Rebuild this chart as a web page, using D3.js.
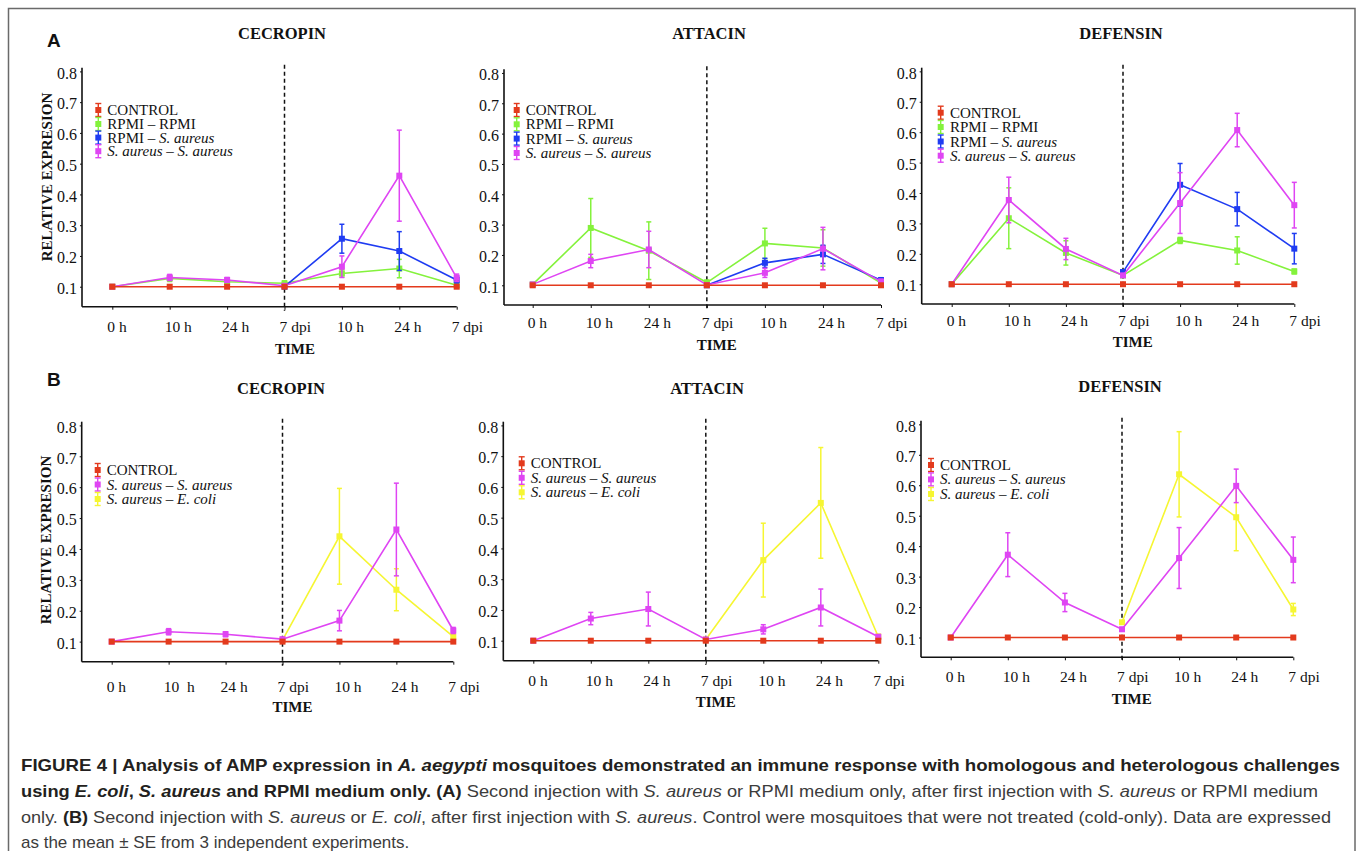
<!DOCTYPE html>
<html>
<head>
<meta charset="utf-8">
<script src="https://cdn.jsdelivr.net/npm/d3@7"></script>
<style>
  html, body { margin: 0; padding: 0; background: #fff; }
  svg { display: block; }
  .pre { white-space: pre; }
</style>
</head>
<body>
<svg id="fig" width="1358" height="851"></svg>
<script>
// ---------------- DATA ----------------
const timeLabels  = ["0 h", "10 h", "24 h", "7 dpi", "10 h", "24 h", "7 dpi"];
const timeLabelsB = ["0 h", "10  h", "24 h", "7 dpi", "10 h", "24 h", "7 dpi"];
const yTicks = [0.1, 0.2, 0.3, 0.4, 0.5, 0.6, 0.7, 0.8];

const controlVals = [0.1, 0.1, 0.1, 0.1, 0.1, 0.1, 0.1];
const controlErr  = [0.003, 0.003, 0.003, 0.003, 0.003, 0.003, 0.003];

// A - CECROPIN
const cecA_rpmiRpmi     = [0.1, 0.127, 0.116, 0.111, 0.143, 0.159, 0.105];
const cecA_rpmiRpmiErr  = [0.003, 0.01, 0.008, 0.008, 0.012, 0.03, 0.008];
const cecA_rpmiSa       = [null, null, null, 0.1, 0.256, 0.216, 0.122];
const cecA_rpmiSaErr    = [0, 0, 0, 0.003, 0.047, 0.063, 0.01];
const cecA_saSa         = [0.1, 0.130, 0.122, 0.103, 0.165, 0.461, 0.129];
const cecA_saSaErr      = [0.003, 0.01, 0.008, 0.006, 0.035, 0.148, 0.012];

// A - ATTACIN
const attA_rpmiRpmi     = [0.103, 0.289, 0.214, 0.109, 0.238, 0.223, 0.107];
const attA_rpmiRpmiErr  = [0.003, 0.097, 0.095, 0.008, 0.05, 0.06, 0.008];
const attA_rpmiSa       = [null, null, null, 0.1, 0.174, 0.202, 0.117];
const attA_rpmiSaErr    = [0, 0, 0, 0.003, 0.015, 0.03, 0.008];
const attA_saSa         = [0.103, 0.18, 0.218, 0.101, 0.141, 0.221, 0.112];
const attA_saSaErr      = [0.003, 0.022, 0.06, 0.006, 0.015, 0.07, 0.008];

// A - DEFENSIN
const defA_rpmiRpmi     = [0.1, 0.317, 0.203, 0.129, 0.244, 0.211, 0.142];
const defA_rpmiRpmiErr  = [0.003, 0.1, 0.04, 0.006, 0.01, 0.045, 0.008];
const defA_rpmiSa       = [null, null, null, 0.14, 0.427, 0.347, 0.217];
const defA_rpmiSaErr    = [0, 0, 0, 0.005, 0.07, 0.055, 0.05];
const defA_saSa         = [0.1, 0.377, 0.216, 0.129, 0.367, 0.607, 0.36];
const defA_saSaErr      = [0.003, 0.075, 0.035, 0.006, 0.1, 0.055, 0.075];

// B - CECROPIN
const cecB_saSa         = [0.1, 0.132, 0.124, 0.108, 0.168, 0.463, 0.136];
const cecB_saSaErr      = [0.003, 0.01, 0.008, 0.005, 0.033, 0.15, 0.01];
const cecB_saEc         = [null, null, null, 0.105, 0.441, 0.268, 0.116];
const cecB_saEcErr      = [0, 0, 0, 0.003, 0.155, 0.068, 0.008];

// B - ATTACIN
const attB_saSa         = [0.1, 0.172, 0.203, 0.104, 0.137, 0.208, 0.113];
const attB_saSaErr      = [0.003, 0.02, 0.055, 0.004, 0.015, 0.06, 0.006];
const attB_saEc         = [null, null, null, 0.104, 0.362, 0.548, 0.113];
const attB_saEcErr      = [0, 0, 0, 0.003, 0.12, 0.18, 0.008];

// B - DEFENSIN
const defB_saSa         = [0.1, 0.372, 0.215, 0.127, 0.361, 0.598, 0.355];
const defB_saSaErr      = [0.003, 0.072, 0.03, 0.006, 0.1, 0.055, 0.075];
const defB_saEc         = [null, null, null, 0.15, 0.636, 0.495, 0.192];
const defB_saEcErr      = [0, 0, 0, 0.005, 0.14, 0.11, 0.02];

// ---------------- STYLE ----------------
const COL = {
  control: "#e33a1d",
  green:   "#84f23c",
  blue:    "#1f3cf2",
  magenta: "#df45f3",
  yellow:  "#f6f632"
};
const SERIF = "'Liberation Serif', 'Times New Roman', Times, serif";
const SANS  = "'Liberation Sans', Arial, Helvetica, sans-serif";

// legend entries: array of parts [text, italic]
const LEG_CONTROL = [["CONTROL", false]];
const LEG_RR  = [["RPMI \u2013 RPMI", false]];
const LEG_RS  = [["RPMI \u2013 ", false], ["S. aureus", true]];
const LEG_SS  = [["S. aureus \u2013 S. aureus", true]];
const LEG_SE  = [["S. aureus \u2013 E. coli", true]];

const panels = [
  { title: "CECROPIN", left: 82, x0: 112.3, right: 456.7, top: 67.7, bottom: 306.7,
    tickBase: 331.5, timeX: 295, timeY: 353.5, titleX: 282, titleY: 39,
    legX: 98.3, legTX: 107.3, legRows: [110, 124, 137.6, 151.2],
    ylabel: { x: 47, y: 177 }, labels: timeLabels,
    series: [
      { v: cecA_rpmiRpmi, e: cecA_rpmiRpmiErr, c: COL.green },
      { v: cecA_rpmiSa,   e: cecA_rpmiSaErr,   c: COL.blue },
      { v: cecA_saSa,     e: cecA_saSaErr,     c: COL.magenta },
      { v: controlVals,   e: controlErr,       c: COL.control }
    ],
    legend: [[LEG_CONTROL, COL.control], [LEG_RR, COL.green], [LEG_RS, COL.blue], [LEG_SS, COL.magenta]]
  },
  { title: "ATTACIN", left: 504, x0: 532.7, right: 881, top: 69.3, bottom: 305,
    tickBase: 328, timeX: 716.7, timeY: 349.5, titleX: 709, titleY: 39,
    legX: 516.7, legTX: 525.7, legRows: [110, 124.3, 138.6, 153],
    ylabel: null, labels: timeLabels,
    series: [
      { v: attA_rpmiRpmi, e: attA_rpmiRpmiErr, c: COL.green },
      { v: attA_rpmiSa,   e: attA_rpmiSaErr,   c: COL.blue },
      { v: attA_saSa,     e: attA_saSaErr,     c: COL.magenta },
      { v: controlVals,   e: controlErr,       c: COL.control }
    ],
    legend: [[LEG_CONTROL, COL.control], [LEG_RR, COL.green], [LEG_RS, COL.blue], [LEG_SS, COL.magenta]]
  },
  { title: "DEFENSIN", left: 921.7, x0: 951.7, right: 1294.3, top: 67.7, bottom: 304,
    tickBase: 325.5, timeX: 1132.7, timeY: 347, titleX: 1121, titleY: 39,
    legX: 940.7, legTX: 950, legRows: [112.7, 127, 141.5, 155.7],
    ylabel: null, labels: timeLabels,
    series: [
      { v: defA_rpmiRpmi, e: defA_rpmiRpmiErr, c: COL.green },
      { v: defA_rpmiSa,   e: defA_rpmiSaErr,   c: COL.blue },
      { v: defA_saSa,     e: defA_saSaErr,     c: COL.magenta },
      { v: controlVals,   e: controlErr,       c: COL.control }
    ],
    legend: [[LEG_CONTROL, COL.control], [LEG_RR, COL.green], [LEG_RS, COL.blue], [LEG_SS, COL.magenta]]
  },
  { title: "CECROPIN", left: 81.7, x0: 111.7, right: 453.3, top: 421.7, bottom: 661.7,
    tickBase: 691.5, timeX: 292.5, timeY: 712, titleX: 281, titleY: 394,
    legX: 97.7, legTX: 106.7, legRows: [470, 484.5, 499],
    ylabel: { x: 46, y: 540 }, labels: timeLabelsB,
    series: [
      { v: cecB_saEc,   e: cecB_saEcErr,   c: COL.yellow },
      { v: cecB_saSa,   e: cecB_saSaErr,   c: COL.magenta },
      { v: controlVals, e: controlErr,     c: COL.control }
    ],
    legend: [[LEG_CONTROL, COL.control], [LEG_SS, COL.magenta], [LEG_SE, COL.yellow]]
  },
  { title: "ATTACIN", left: 503.3, x0: 533.3, right: 878.3, top: 421.7, bottom: 660.7,
    tickBase: 686, timeX: 715.7, timeY: 706.5, titleX: 707, titleY: 394,
    legX: 521.7, legTX: 530.7, legRows: [463.3, 477.8, 492.3],
    ylabel: null, labels: timeLabels,
    series: [
      { v: attB_saEc,   e: attB_saEcErr,   c: COL.yellow },
      { v: attB_saSa,   e: attB_saSaErr,   c: COL.magenta },
      { v: controlVals, e: controlErr,     c: COL.control }
    ],
    legend: [[LEG_CONTROL, COL.control], [LEG_SS, COL.magenta], [LEG_SE, COL.yellow]]
  },
  { title: "DEFENSIN", left: 921, x0: 950.7, right: 1293.3, top: 420.7, bottom: 657.3,
    tickBase: 681.5, timeX: 1131.7, timeY: 703.5, titleX: 1120, titleY: 391.5,
    legX: 931, legTX: 940, legRows: [465, 479.4, 494],
    ylabel: null, labels: timeLabels,
    series: [
      { v: defB_saEc,   e: defB_saEcErr,   c: COL.yellow },
      { v: defB_saSa,   e: defB_saSaErr,   c: COL.magenta },
      { v: controlVals, e: controlErr,     c: COL.control }
    ],
    legend: [[LEG_CONTROL, COL.control], [LEG_SS, COL.magenta], [LEG_SE, COL.yellow]]
  }
];

const Y_DOMAIN = [0.035, 0.812];

// ---------------- DRAW ----------------
const svg = d3.select("#fig");

// outer frame
svg.append("rect")
  .attr("x", 8.5).attr("y", 8.5).attr("width", 1346.5).attr("height", 880)
  .attr("fill", "none").attr("stroke", "#6a6a6a").attr("stroke-width", 1.5);

// panel letters
svg.append("text").attr("x", 47).attr("y", 47)
  .attr("font-family", SANS).attr("font-weight", "bold").attr("font-size", 19)
  .attr("fill", "#111").text("A");
svg.append("text").attr("x", 47).attr("y", 386)
  .attr("font-family", SANS).attr("font-weight", "bold").attr("font-size", 19)
  .attr("fill", "#111").text("B");

function drawPanel(p) {
  const g = svg.append("g");
  const x = d3.scalePoint().domain(d3.range(7)).range([p.x0, p.right]);
  const y = d3.scaleLinear().domain(Y_DOMAIN).range([p.bottom, p.top]);

  // Y axis
  const yAxis = d3.axisLeft(y).tickValues(yTicks).tickFormat(d3.format(".1f"))
    .tickSize(2).tickPadding(3);
  const ya = g.append("g").attr("transform", `translate(${p.left},0)`).call(yAxis);
  ya.select(".domain").attr("d", `M0,${p.top}V${p.bottom}`).attr("stroke", "#111").attr("stroke-width", 1.6);
  ya.selectAll(".tick line").attr("stroke", "#111");
  ya.selectAll(".tick text").attr("font-family", SERIF).attr("font-size", 16)
    .attr("fill", "#111").attr("dy", "0.42em");

  // X axis
  const xAxis = d3.axisBottom(x).tickSize(3).tickFormat(() => "");
  const xa = g.append("g").attr("transform", `translate(0,${p.bottom})`).call(xAxis);
  xa.select(".domain").attr("d", `M${p.left},0H${p.right}`).attr("stroke", "#111").attr("stroke-width", 1.6);
  xa.selectAll(".tick line").attr("stroke", "#111");

  // X tick labels
  g.selectAll("text.xl").data(p.labels).enter().append("text")
    .attr("class", "xl pre")
    .attr("x", (d, i) => x(i) - 5).attr("y", p.tickBase)
    .attr("font-family", SERIF).attr("font-size", 15.5).attr("fill", "#111")
    .attr("text-anchor", "start")
    .text(d => d);

  // TIME
  g.append("text").attr("x", p.timeX).attr("y", p.timeY)
    .attr("text-anchor", "middle").attr("font-family", SERIF).attr("font-weight", "bold")
    .attr("font-size", 15).attr("fill", "#111").text("TIME");

  // Title
  g.append("text").attr("x", p.titleX).attr("y", p.titleY)
    .attr("text-anchor", "middle").attr("font-family", SERIF).attr("font-weight", "bold")
    .attr("font-size", 16.5).attr("fill", "#111").text(p.title);

  // Y label
  if (p.ylabel) {
    g.append("text")
      .attr("transform", `translate(${p.ylabel.x},${p.ylabel.y}) rotate(-90)`)
      .attr("text-anchor", "middle").attr("dominant-baseline", "central")
      .attr("font-family", SERIF).attr("font-weight", "bold").attr("font-size", 15)
      .attr("fill", "#111").text("RELATIVE EXPRESION");
  }

  // dashed separator at index 3
  g.append("line")
    .attr("x1", x(3)).attr("x2", x(3))
    .attr("y1", p.top - 3).attr("y2", p.bottom + 4)
    .attr("stroke", "#111").attr("stroke-width", 1.5).attr("stroke-dasharray", "4,3");

  // series
  const line = d3.line().defined(d => d.v != null).x(d => x(d.i)).y(d => y(d.v));
  p.series.forEach(s => {
    const pts = s.v.map((v, i) => ({ i, v, e: s.e[i] }));
    const sg = g.append("g");
    sg.append("path").datum(pts).attr("d", line)
      .attr("fill", "none").attr("stroke", s.c).attr("stroke-width", 1.6);
    const valid = pts.filter(d => d.v != null);
    // error bars
    valid.forEach(d => {
      if (d.e > 0.004) {
        const y1 = y(d.v + d.e), y2 = y(d.v - d.e), cx = x(d.i);
        sg.append("line").attr("x1", cx).attr("x2", cx).attr("y1", y1).attr("y2", y2)
          .attr("stroke", s.c).attr("stroke-width", 1.5);
        [y1, y2].forEach(yy => sg.append("line")
          .attr("x1", cx - 2.5).attr("x2", cx + 2.5).attr("y1", yy).attr("y2", yy)
          .attr("stroke", s.c).attr("stroke-width", 1.5));
      }
    });
    sg.selectAll("rect").data(valid).enter().append("rect")
      .attr("x", d => x(d.i) - 3).attr("y", d => y(d.v) - 3)
      .attr("width", 6).attr("height", 6).attr("fill", s.c);
  });

  // legend
  p.legend.forEach((entry, k) => {
    const [parts, c] = entry;
    const cy = p.legRows[k];
    const lg = g.append("g");
    lg.append("line").attr("x1", p.legX).attr("x2", p.legX).attr("y1", cy - 6.5).attr("y2", cy + 6.5)
      .attr("stroke", c).attr("stroke-width", 1.4);
    [cy - 6.5, cy + 6.5].forEach(yy => lg.append("line")
      .attr("x1", p.legX - 3).attr("x2", p.legX + 3).attr("y1", yy).attr("y2", yy)
      .attr("stroke", c).attr("stroke-width", 1.4));
    lg.append("rect").attr("x", p.legX - 3).attr("y", cy - 3).attr("width", 6).attr("height", 6).attr("fill", c);
    const t = lg.append("text").attr("x", p.legTX).attr("y", cy + 5)
      .attr("font-family", SERIF).attr("font-size", 15).attr("fill", "#111");
    parts.forEach(([txt, it]) => t.append("tspan").attr("font-style", it ? "italic" : "normal").text(txt));
  });
}

panels.forEach(drawPanel);

// ---------------- CAPTION ----------------
const captionLines = [
  { y: 771, len: 1319, parts: [
    ["FIGURE 4 | Analysis of AMP expression in ", "b"], ["A. aegypti", "bi"],
    [" mosquitoes demonstrated an immune response with homologous and heterologous challenges", "b"] ] },
  { y: 797, len: 1297, parts: [
    ["using ", "b"], ["E. coli", "bi"], [", ", "b"], ["S. aureus", "bi"], [" and RPMI medium only. (A)", "b"],
    [" Second injection with ", "r"], ["S. aureus", "i"], [" or RPMI medium only, after first injection with ", "r"],
    ["S. aureus", "i"], [" or RPMI medium", "r"] ] },
  { y: 823, len: 1310, parts: [
    ["only. ", "r"], ["(B)", "b"], [" Second injection with ", "r"], ["S. aureus", "i"], [" or ", "r"],
    ["E. coli", "i"], [", after first injection with ", "r"], ["S. aureus", "i"],
    [". Control were mosquitoes that were not treated (cold-only). Data are expressed", "r"] ] },
  { y: 848, len: null, parts: [
    ["as the mean \u00b1 SE from 3 independent experiments.", "r"] ] }
];

captionLines.forEach(L => {
  const t = svg.append("text").attr("x", 21).attr("y", L.y)
    .attr("font-family", SANS).attr("font-size", 17).attr("class", "pre");
  if (L.len) t.attr("textLength", L.len).attr("lengthAdjust", "spacingAndGlyphs");
  L.parts.forEach(([txt, st]) => {
    t.append("tspan")
      .attr("font-weight", st.includes("b") ? "bold" : "normal")
      .attr("font-style", st.includes("i") ? "italic" : "normal")
      .attr("fill", st.includes("b") ? "#231f20" : "#3c3c3c")
      .text(txt);
  });
});
</script>
</body>
</html>
